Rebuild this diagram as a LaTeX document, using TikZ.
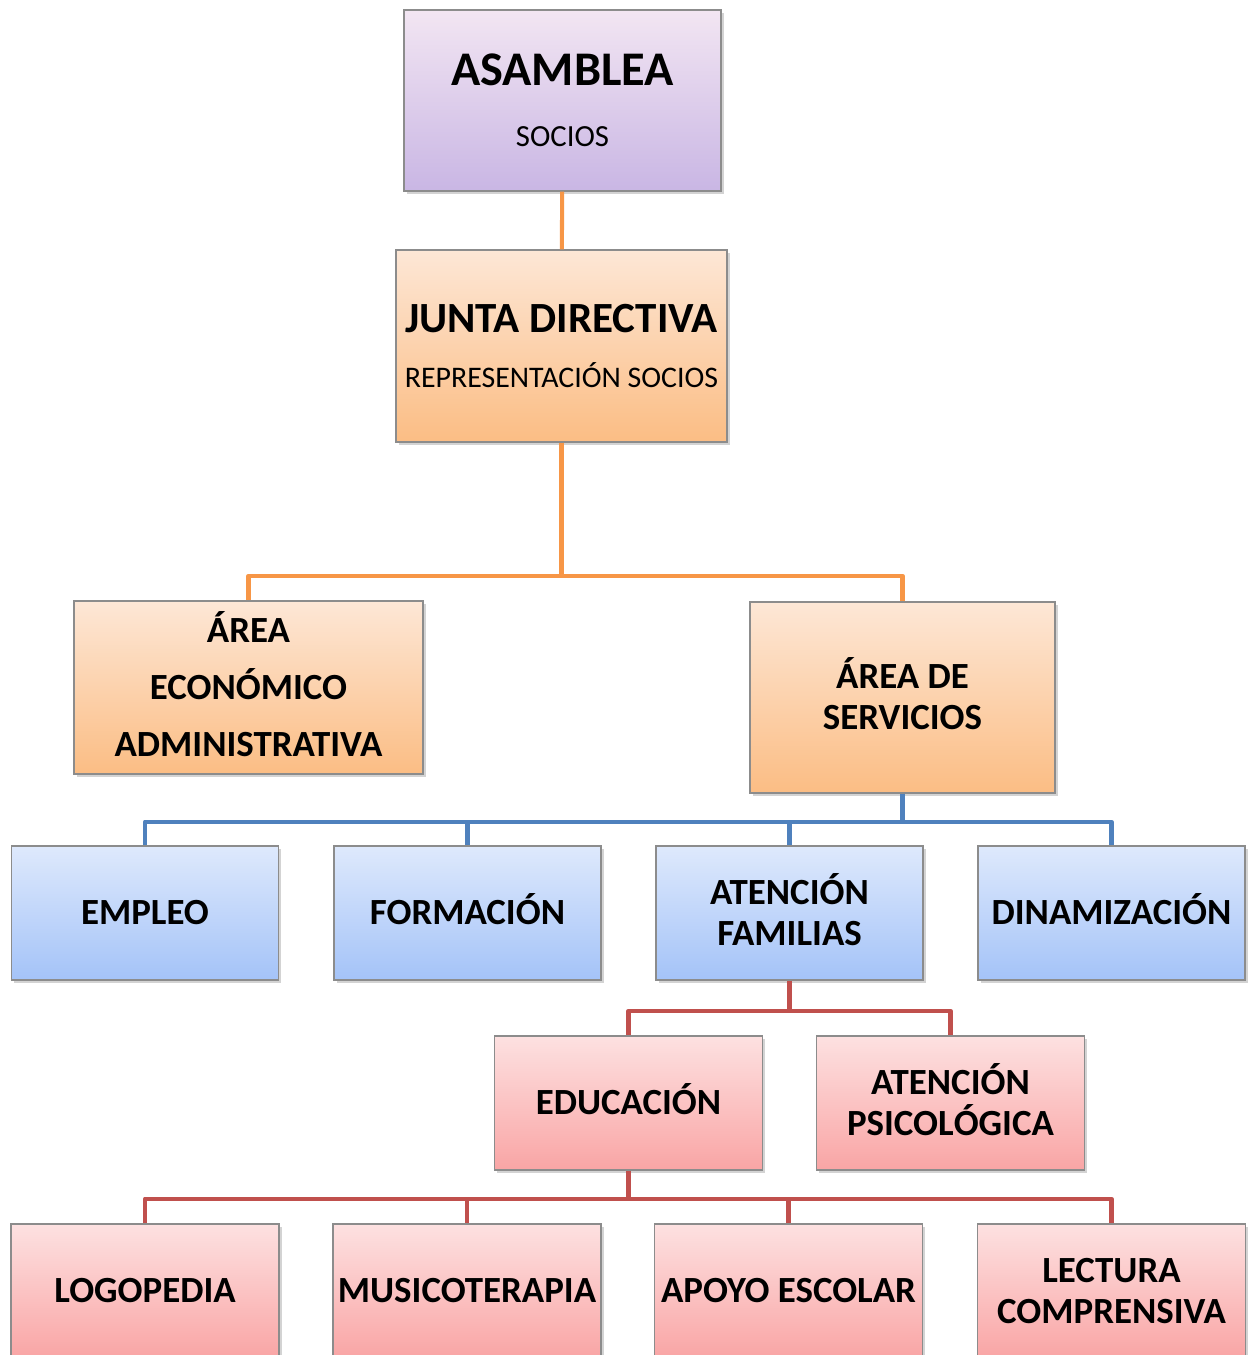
\documentclass[tikz,border=0pt]{standalone}
\usepackage{fontspec}
\setmainfont{Carlito}
\usetikzlibrary{shadows}

\definecolor{lineorange}{HTML}{F79646}
\definecolor{lineblue}{HTML}{4F81BD}
\definecolor{linered}{HTML}{C0504D}
\definecolor{boxgray}{HTML}{8C8C8C}

\begin{document}
\begin{tikzpicture}[x=0.02cm,y=0.02cm,
  box/.style={draw=boxgray, line width=0.8pt, align=center, inner sep=0pt,
    font=\fontsize{21}{23.5}\selectfont\bfseries,
    drop shadow={shadow xshift=1.5pt, shadow yshift=-1.5pt, opacity=0.35}},
  purplebox/.style={box, top color=violet!10!white, bottom color={rgb,255:red,201;green,182;blue,228}},
  orangebox/.style={box, top color={rgb,255:red,253;green,231;blue,214}, bottom color={rgb,255:red,251;green,189;blue,132}},
  bluebox/.style={box, top color={rgb,255:red,222;green,233;blue,252}, bottom color={rgb,255:red,164;green,195;blue,248},
    minimum width=5.34cm, minimum height=2.68cm},
  redbox/.style={box, top color={rgb,255:red,253;green,225;blue,225}, bottom color={rgb,255:red,249;green,165;blue,165},
    minimum width=5.36cm, minimum height=2.68cm},
  link/.style={line width=2.3pt, line join=round}
]
\useasboundingbox (0,0) rectangle (1257,-1355);

% top of the tree
\node[purplebox, minimum width=6.34cm, minimum height=3.62cm] (asamblea) at (562.5,-100.5)
  {{\fontsize{27.5}{30}\selectfont ASAMBLEA}\\[11pt]{\fontsize{17.5}{19}\selectfont\mdseries SOCIOS}};
\node[orangebox, minimum width=6.62cm, minimum height=3.84cm] (junta) at (561.5,-346)
  {{\fontsize{24.5}{27}\selectfont JUNTA DIRECTIVA}\\[8pt]{\fontsize{17}{19}\selectfont\mdseries REPRESENTACI\smash{Ó}N SOCIOS}};

\node[orangebox, minimum width=6.98cm, minimum height=3.46cm, font=\fontsize{21}{32.5}\selectfont\bfseries] (areaeco) at (248.5,-687.5)
  {\smash{Á}REA\\ECON\smash{Ó}MICO\\ADMINISTRATIVA};
\node[orangebox, minimum width=6.10cm, minimum height=3.82cm] (areaserv) at (902.5,-697.5)
  {\smash{Á}REA DE\\SERVICIOS};

% services
\node[bluebox] (empleo) at (145,-913) {EMPLEO};
\node[bluebox] (formacion) at (467.5,-913) {FORMACI\smash{Ó}N};
\node[bluebox] (atencion) at (789.5,-913) {ATENCI\smash{Ó}N\\FAMILIAS};
\node[bluebox] (dinamizacion) at (1111.5,-913) {DINAMIZACI\smash{Ó}N};

\node[redbox] (educacion) at (628.5,-1103) {EDUCACI\smash{Ó}N};
\node[redbox] (psicologica) at (950.5,-1103) {ATENCI\smash{Ó}N\\PSICOL\smash{Ó}GICA};

\node[redbox] (logopedia) at (145,-1291) {LOGOPEDIA};
\node[redbox] (musicoterapia) at (467,-1291) {MUSICOTERAPIA};
\node[redbox] (apoyo) at (788.5,-1291) {APOYO ESCOLAR};
\node[redbox] (lectura) at (1111.5,-1291) {LECTURA\\COMPRENSIVA};

% connectors
\draw[link, lineorange] (asamblea) -- (junta);
\draw[link, lineorange] (junta.south) -- ++(0,-133) coordinate (jbus);
\foreach \n in {areaeco,areaserv}
  \draw[link, lineorange] (jbus) -| (\n.north);

\draw[link, lineblue] (areaserv.south) -- ++(0,-28) coordinate (sbus);
\foreach \n in {empleo,formacion,atencion,dinamizacion}
  \draw[link, lineblue] (sbus) -| (\n.north);

\draw[link, linered] (atencion.south) -- ++(0,-30) coordinate (abus);
\foreach \n in {educacion,psicologica}
  \draw[link, linered] (abus) -| (\n.north);

\draw[link, linered] (educacion.south) -- ++(0,-28) coordinate (ebus);
\foreach \n in {logopedia,musicoterapia,apoyo,lectura}
  \draw[link, linered] (ebus) -| (\n.north);
\end{tikzpicture}
\end{document}
